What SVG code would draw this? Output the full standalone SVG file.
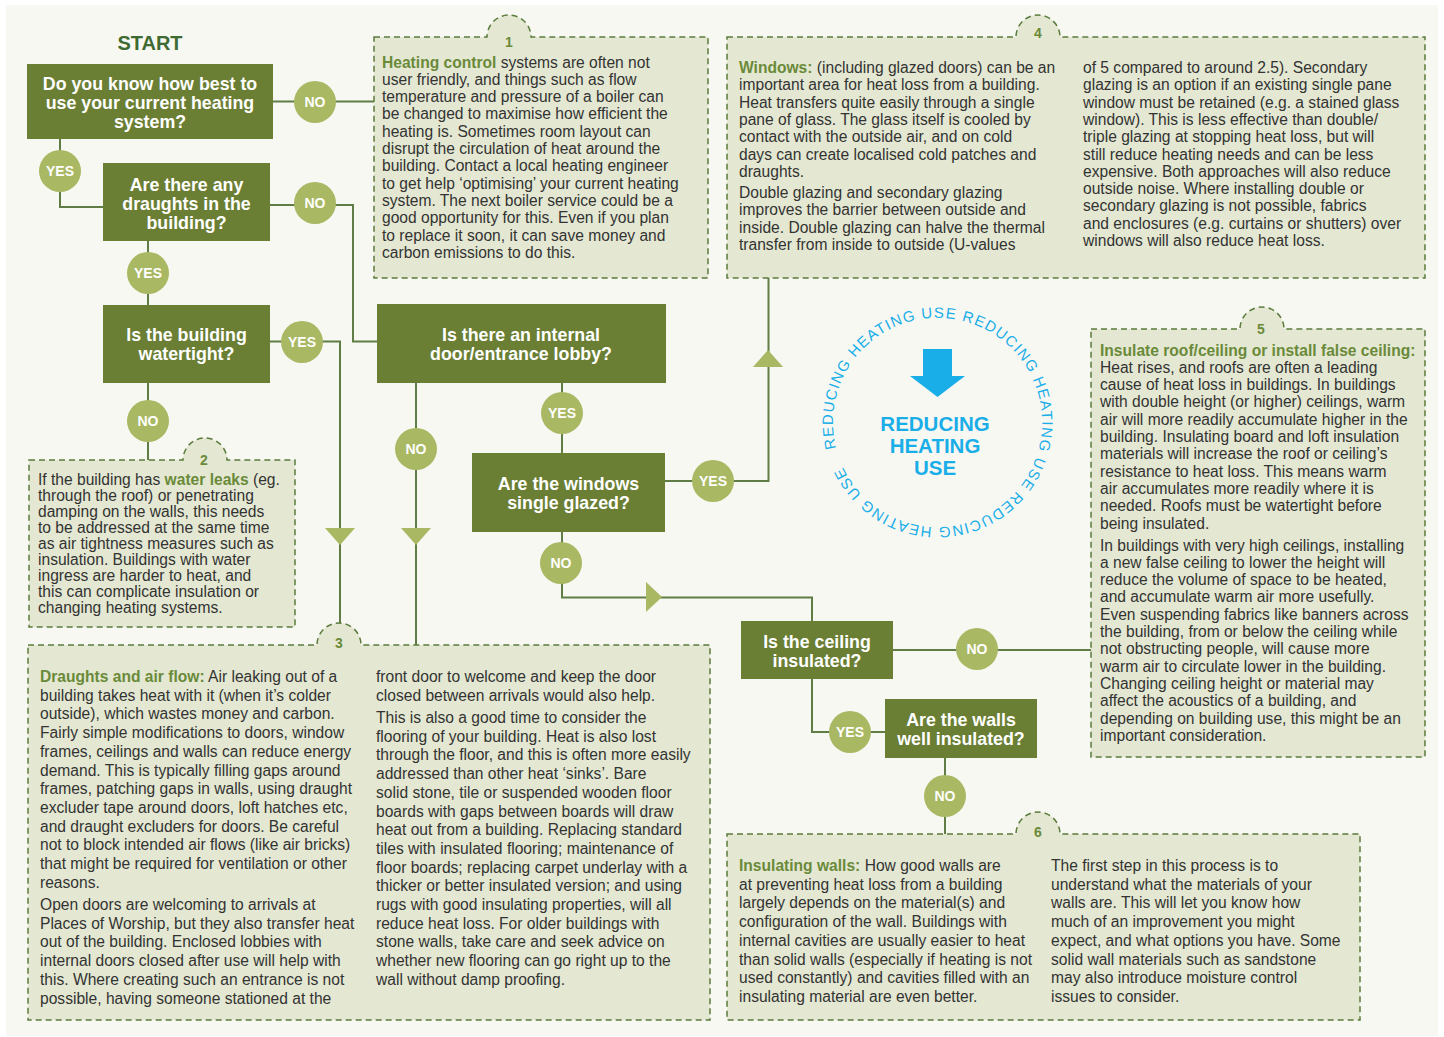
<svg xmlns="http://www.w3.org/2000/svg" width="1444" height="1037" viewBox="0 0 1444 1037">
<style>
.bg{fill:#f8f8f3}
.panel{fill:#e4e8d2;stroke:#5b7b3c;stroke-width:1.5;stroke-dasharray:6 4}
.node{fill:#6a7e34}
.nt{font-family:"Liberation Sans",Arial,sans-serif;font-weight:bold;font-size:17.8px;fill:#ffffff;text-anchor:middle}
.lbl{fill:#a9b862}
.lt{font-family:"Liberation Sans",Arial,sans-serif;font-weight:bold;font-size:14px;fill:#ffffff;text-anchor:middle}
.pt{font-family:"Liberation Sans",Arial,sans-serif;font-size:15.6px;fill:#333333}
.h{font-weight:bold;fill:#6a8a3a}
.num{font-family:"Liberation Sans",Arial,sans-serif;font-weight:bold;font-size:14px;fill:#6a8a3a;text-anchor:middle}
.ln{fill:none;stroke:#5f7d45;stroke-width:2}
.tri{fill:#a9b862}
.cy{fill:#1aaee8}
</style>
<defs>
<path id="ring" d="M 836.1 448.2 A 104 104 0 1 1 1038.9 396.8 A 104 104 0 1 1 836.1 448.2"/>
</defs>
<rect x="0" y="0" width="1444" height="1037" fill="#ffffff"/>
<rect class="bg" x="6" y="5" width="1432" height="1031"/>

<text x="150" y="50" font-family="Liberation Sans, Arial, sans-serif" font-weight="bold" font-size="20" fill="#3f6a31" text-anchor="middle">START</text>

<g id="connectors">
<path class="ln" d="M273 101.5 H374"/>
<path class="ln" d="M60 139 V207 H103"/>
<path class="ln" d="M270 205 H353 V341.5 H377"/>
<path class="ln" d="M148 241 V305"/>
<path class="ln" d="M270 341.5 H340 V624"/>
<path class="ln" d="M148 383 V460"/>
<path class="ln" d="M416 383 V645"/>
<path class="ln" d="M562 383 V453"/>
<path class="ln" d="M665 481 H768.5 V278"/>
<path class="ln" d="M562 532 V597.5 H812 V621"/>
<path class="ln" d="M893 650 H1091"/>
<path class="ln" d="M812 679 V732 H885"/>
<path class="ln" d="M945 758 V834"/>
<polygon class="tri" points="325,528 355,528 340,545"/>
<polygon class="tri" points="401,528 431,528 416,545"/>
<polygon class="tri" points="753,367 783,367 768,350"/>
<polygon class="tri" points="646,582 646,612 662,597"/>
</g>

<g id="panel1">
<path class="panel" d="M374 37 H487 A22 22 0 0 1 531 37 H708 V278 H374 Z"/>
<text class="num" x="509" y="47">1</text>
<text class="pt">
<tspan x="382" y="67.5"><tspan class="h">Heating control</tspan> systems are often not</tspan>
<tspan x="382" y="84.8">user friendly, and things such as flow</tspan>
<tspan x="382" y="102.1">temperature and pressure of a boiler can</tspan>
<tspan x="382" y="119.4">be changed to maximise how efficient the</tspan>
<tspan x="382" y="136.7">heating is. Sometimes room layout can</tspan>
<tspan x="382" y="154">disrupt the circulation of heat around the</tspan>
<tspan x="382" y="171.3">building. Contact a local heating engineer</tspan>
<tspan x="382" y="188.6">to get help ‘optimising’ your current heating</tspan>
<tspan x="382" y="205.9">system. The next boiler service could be a</tspan>
<tspan x="382" y="223.2">good opportunity for this. Even if you plan</tspan>
<tspan x="382" y="240.5">to replace it soon, it can save money and</tspan>
<tspan x="382" y="257.8">carbon emissions to do this.</tspan>
</text>
</g>

<g id="panel2">
<path class="panel" d="M29 460 H183 A22 22 0 0 1 227 460 H295 V627 H29 Z"/>
<text class="num" x="204" y="465">2</text>
<text class="pt">
<tspan x="38" y="485">If the building has <tspan class="h">water leaks</tspan> (eg.</tspan>
<tspan x="38" y="501">through the roof) or penetrating</tspan>
<tspan x="38" y="517">damping on the walls, this needs</tspan>
<tspan x="38" y="533">to be addressed at the same time</tspan>
<tspan x="38" y="549">as air tightness measures such as</tspan>
<tspan x="38" y="565">insulation. Buildings with water</tspan>
<tspan x="38" y="581">ingress are harder to heat, and</tspan>
<tspan x="38" y="597">this can complicate insulation or</tspan>
<tspan x="38" y="613">changing heating systems.</tspan>
</text>
</g>

<g id="panel3">
<path class="panel" d="M28 645 H317 A22 22 0 0 1 361 645 H710 V1020 H28 Z"/>
<text class="num" x="339" y="648">3</text>
<text class="pt">
<tspan x="40" y="682"><tspan class="h">Draughts and air flow:</tspan> Air leaking out of a</tspan>
<tspan x="40" y="700.7">building takes heat with it (when it’s colder</tspan>
<tspan x="40" y="719.4">outside), which wastes money and carbon.</tspan>
<tspan x="40" y="738.1">Fairly simple modifications to doors, window</tspan>
<tspan x="40" y="756.8">frames, ceilings and walls can reduce energy</tspan>
<tspan x="40" y="775.5">demand. This is typically filling gaps around</tspan>
<tspan x="40" y="794.2">frames, patching gaps in walls, using draught</tspan>
<tspan x="40" y="812.9">excluder tape around doors, loft hatches etc,</tspan>
<tspan x="40" y="831.6">and draught excluders for doors. Be careful</tspan>
<tspan x="40" y="850.3">not to block intended air flows (like air bricks)</tspan>
<tspan x="40" y="869">that might be required for ventilation or other</tspan>
<tspan x="40" y="887.7">reasons.</tspan>
<tspan x="40" y="910">Open doors are welcoming to arrivals at</tspan>
<tspan x="40" y="928.7">Places of Worship, but they also transfer heat</tspan>
<tspan x="40" y="947.4">out of the building. Enclosed lobbies with</tspan>
<tspan x="40" y="966.1">internal doors closed after use will help with</tspan>
<tspan x="40" y="984.8">this. Where creating such an entrance is not</tspan>
<tspan x="40" y="1003.5">possible, having someone stationed at the</tspan>
<tspan x="376" y="682">front door to welcome and keep the door</tspan>
<tspan x="376" y="700.7">closed between arrivals would also help.</tspan>
<tspan x="376" y="723">This is also a good time to consider the</tspan>
<tspan x="376" y="741.7">flooring of your building. Heat is also lost</tspan>
<tspan x="376" y="760.4">through the floor, and this is often more easily</tspan>
<tspan x="376" y="779.1">addressed than other heat ‘sinks’. Bare</tspan>
<tspan x="376" y="797.8">solid stone, tile or suspended wooden floor</tspan>
<tspan x="376" y="816.5">boards with gaps between boards will draw</tspan>
<tspan x="376" y="835.2">heat out from a building. Replacing standard</tspan>
<tspan x="376" y="853.9">tiles with insulated flooring; maintenance of</tspan>
<tspan x="376" y="872.6">floor boards; replacing carpet underlay with a</tspan>
<tspan x="376" y="891.3">thicker or better insulated version; and using</tspan>
<tspan x="376" y="910">rugs with good insulating properties, will all</tspan>
<tspan x="376" y="928.7">reduce heat loss. For older buildings with</tspan>
<tspan x="376" y="947.4">stone walls, take care and seek advice on</tspan>
<tspan x="376" y="966.1">whether new flooring can go right up to the</tspan>
<tspan x="376" y="984.8">wall without damp proofing.</tspan>
</text>
</g>

<g id="panel4">
<path class="panel" d="M727 37 H1016 A22 22 0 0 1 1060 37 H1425 V278 H727 Z"/>
<text class="num" x="1038" y="38">4</text>
<text class="pt">
<tspan x="739" y="73"><tspan class="h">Windows:</tspan> (including glazed doors) can be an</tspan>
<tspan x="739" y="90.3">important area for heat loss from a building.</tspan>
<tspan x="739" y="107.6">Heat transfers quite easily through a single</tspan>
<tspan x="739" y="124.9">pane of glass. The glass itself is cooled by</tspan>
<tspan x="739" y="142.2">contact with the outside air, and on cold</tspan>
<tspan x="739" y="159.5">days can create localised cold patches and</tspan>
<tspan x="739" y="176.8">draughts.</tspan>
<tspan x="739" y="198">Double glazing and secondary glazing</tspan>
<tspan x="739" y="215.3">improves the barrier between outside and</tspan>
<tspan x="739" y="232.6">inside. Double glazing can halve the thermal</tspan>
<tspan x="739" y="249.9">transfer from inside to outside (U-values</tspan>
<tspan x="1083" y="73">of 5 compared to around 2.5). Secondary</tspan>
<tspan x="1083" y="90.3">glazing is an option if an existing single pane</tspan>
<tspan x="1083" y="107.6">window must be retained (e.g. a stained glass</tspan>
<tspan x="1083" y="124.9">window). This is less effective than double/</tspan>
<tspan x="1083" y="142.2">triple glazing at stopping heat loss, but will</tspan>
<tspan x="1083" y="159.5">still reduce heating needs and can be less</tspan>
<tspan x="1083" y="176.8">expensive. Both approaches will also reduce</tspan>
<tspan x="1083" y="194.1">outside noise. Where installing double or</tspan>
<tspan x="1083" y="211.4">secondary glazing is not possible, fabrics</tspan>
<tspan x="1083" y="228.7">and enclosures (e.g. curtains or shutters) over</tspan>
<tspan x="1083" y="246">windows will also reduce heat loss.</tspan>
</text>
</g>

<g id="panel5">
<path class="panel" d="M1091 329 H1240 A22 22 0 0 1 1284 329 H1425 V757 H1091 Z"/>
<text class="num" x="1261" y="334">5</text>
<text class="pt">
<tspan x="1100" y="355.5" class="h">Insulate roof/ceiling or install false ceiling:</tspan>
<tspan x="1100" y="372.8">Heat rises, and roofs are often a leading</tspan>
<tspan x="1100" y="390.1">cause of heat loss in buildings. In buildings</tspan>
<tspan x="1100" y="407.4">with double height (or higher) ceilings, warm</tspan>
<tspan x="1100" y="424.7">air will more readily accumulate higher in the</tspan>
<tspan x="1100" y="442">building. Insulating board and loft insulation</tspan>
<tspan x="1100" y="459.3">materials will increase the roof or ceiling’s</tspan>
<tspan x="1100" y="476.6">resistance to heat loss. This means warm</tspan>
<tspan x="1100" y="493.9">air accumulates more readily where it is</tspan>
<tspan x="1100" y="511.2">needed. Roofs must be watertight before</tspan>
<tspan x="1100" y="528.5">being insulated.</tspan>
<tspan x="1100" y="550.5">In buildings with very high ceilings, installing</tspan>
<tspan x="1100" y="567.8">a new false ceiling to lower the height will</tspan>
<tspan x="1100" y="585.1">reduce the volume of space to be heated,</tspan>
<tspan x="1100" y="602.4">and accumulate warm air more usefully.</tspan>
<tspan x="1100" y="619.7">Even suspending fabrics like banners across</tspan>
<tspan x="1100" y="637">the building, from or below the ceiling while</tspan>
<tspan x="1100" y="654.3">not obstructing people, will cause more</tspan>
<tspan x="1100" y="671.6">warm air to circulate lower in the building.</tspan>
<tspan x="1100" y="688.9">Changing ceiling height or material may</tspan>
<tspan x="1100" y="706.2">affect the acoustics of a building, and</tspan>
<tspan x="1100" y="723.5">depending on building use, this might be an</tspan>
<tspan x="1100" y="740.8">important consideration.</tspan>
</text>
</g>

<g id="panel6">
<path class="panel" d="M727 834 H1016 A22 22 0 0 1 1060 834 H1360 V1020 H727 Z"/>
<text class="num" x="1038" y="837">6</text>
<text class="pt">
<tspan x="739" y="871"><tspan class="h">Insulating walls:</tspan> How good walls are</tspan>
<tspan x="739" y="889.7">at preventing heat loss from a building</tspan>
<tspan x="739" y="908.4">largely depends on the material(s) and</tspan>
<tspan x="739" y="927.1">configuration of the wall. Buildings with</tspan>
<tspan x="739" y="945.8">internal cavities are usually easier to heat</tspan>
<tspan x="739" y="964.5">than solid walls (especially if heating is not</tspan>
<tspan x="739" y="983.2">used constantly) and cavities filled with an</tspan>
<tspan x="739" y="1001.9">insulating material are even better.</tspan>
<tspan x="1051" y="871">The first step in this process is to</tspan>
<tspan x="1051" y="889.7">understand what the materials of your</tspan>
<tspan x="1051" y="908.4">walls are. This will let you know how</tspan>
<tspan x="1051" y="927.1">much of an improvement you might</tspan>
<tspan x="1051" y="945.8">expect, and what options you have. Some</tspan>
<tspan x="1051" y="964.5">solid wall materials such as sandstone</tspan>
<tspan x="1051" y="983.2">may also introduce moisture control</tspan>
<tspan x="1051" y="1001.9">issues to consider.</tspan>
</text>
</g>

<g id="q1">
<rect class="node" x="27" y="64" width="246" height="75"/>
<text class="nt"><tspan x="150" y="89.5">Do you know how best to</tspan><tspan x="150" y="108.5">use your current heating</tspan><tspan x="150" y="127.5">system?</tspan></text>
</g>
<g id="q2">
<rect class="node" x="103" y="163" width="167" height="78"/>
<text class="nt"><tspan x="186.5" y="190.5">Are there any</tspan><tspan x="186.5" y="209.5">draughts in the</tspan><tspan x="186.5" y="228.5">building?</tspan></text>
</g>
<g id="q3">
<rect class="node" x="103" y="305" width="167" height="78"/>
<text class="nt"><tspan x="186.5" y="341">Is the building</tspan><tspan x="186.5" y="360">watertight?</tspan></text>
</g>
<g id="q4">
<rect class="node" x="377" y="304" width="289" height="79"/>
<text class="nt"><tspan x="521" y="341">Is there an internal</tspan><tspan x="521" y="360">door/entrance lobby?</tspan></text>
</g>
<g id="q5">
<rect class="node" x="472" y="453" width="193" height="79"/>
<text class="nt"><tspan x="568.5" y="489.5">Are the windows</tspan><tspan x="568.5" y="508.5">single glazed?</tspan></text>
</g>
<g id="q6">
<rect class="node" x="741" y="621" width="152" height="58"/>
<text class="nt"><tspan x="817" y="647.5">Is the ceiling</tspan><tspan x="817" y="666.5">insulated?</tspan></text>
</g>
<g id="q7">
<rect class="node" x="885" y="699" width="152" height="59"/>
<text class="nt"><tspan x="961" y="726">Are the walls</tspan><tspan x="961" y="745">well insulated?</tspan></text>
</g>

<g id="labels">
<g id="l1"><circle class="lbl" cx="315" cy="102" r="21"/><text class="lt" x="315" y="107">NO</text></g>
<g id="l2"><circle class="lbl" cx="60" cy="171" r="21"/><text class="lt" x="60" y="176">YES</text></g>
<g id="l3"><circle class="lbl" cx="315" cy="203" r="21"/><text class="lt" x="315" y="208">NO</text></g>
<g id="l4"><circle class="lbl" cx="148" cy="273" r="21"/><text class="lt" x="148" y="278">YES</text></g>
<g id="l5"><circle class="lbl" cx="302" cy="342" r="21"/><text class="lt" x="302" y="347">YES</text></g>
<g id="l6"><circle class="lbl" cx="148" cy="421" r="21"/><text class="lt" x="148" y="426">NO</text></g>
<g id="l7"><circle class="lbl" cx="416" cy="449" r="21"/><text class="lt" x="416" y="454">NO</text></g>
<g id="l8"><circle class="lbl" cx="562" cy="413" r="21"/><text class="lt" x="562" y="418">YES</text></g>
<g id="l9"><circle class="lbl" cx="713" cy="481" r="21"/><text class="lt" x="713" y="486">YES</text></g>
<g id="l10"><circle class="lbl" cx="561" cy="563" r="21"/><text class="lt" x="561" y="568">NO</text></g>
<g id="l11"><circle class="lbl" cx="977" cy="649" r="21"/><text class="lt" x="977" y="654">NO</text></g>
<g id="l12"><circle class="lbl" cx="850" cy="732" r="21"/><text class="lt" x="850" y="737">YES</text></g>
<g id="l13"><circle class="lbl" cx="945" cy="796" r="21"/><text class="lt" x="945" y="801">NO</text></g>
</g>

<g id="reducing">
<text font-family="Liberation Sans, Arial, sans-serif" font-size="15" letter-spacing="1.2" class="cy"><textPath href="#ring">REDUCING HEATING USE REDUCING HEATING USE REDUCING HEATING USE</textPath></text>
<polygon class="cy" points="923,349 952,349 952,376 965,376 937.5,397 910,376 923,376"/>
<text font-family="Liberation Sans, Arial, sans-serif" font-weight="bold" font-size="20.5" class="cy" text-anchor="middle"><tspan x="935" y="431">REDUCING</tspan><tspan x="935" y="453">HEATING</tspan><tspan x="935" y="475">USE</tspan></text>
</g>
</svg>
